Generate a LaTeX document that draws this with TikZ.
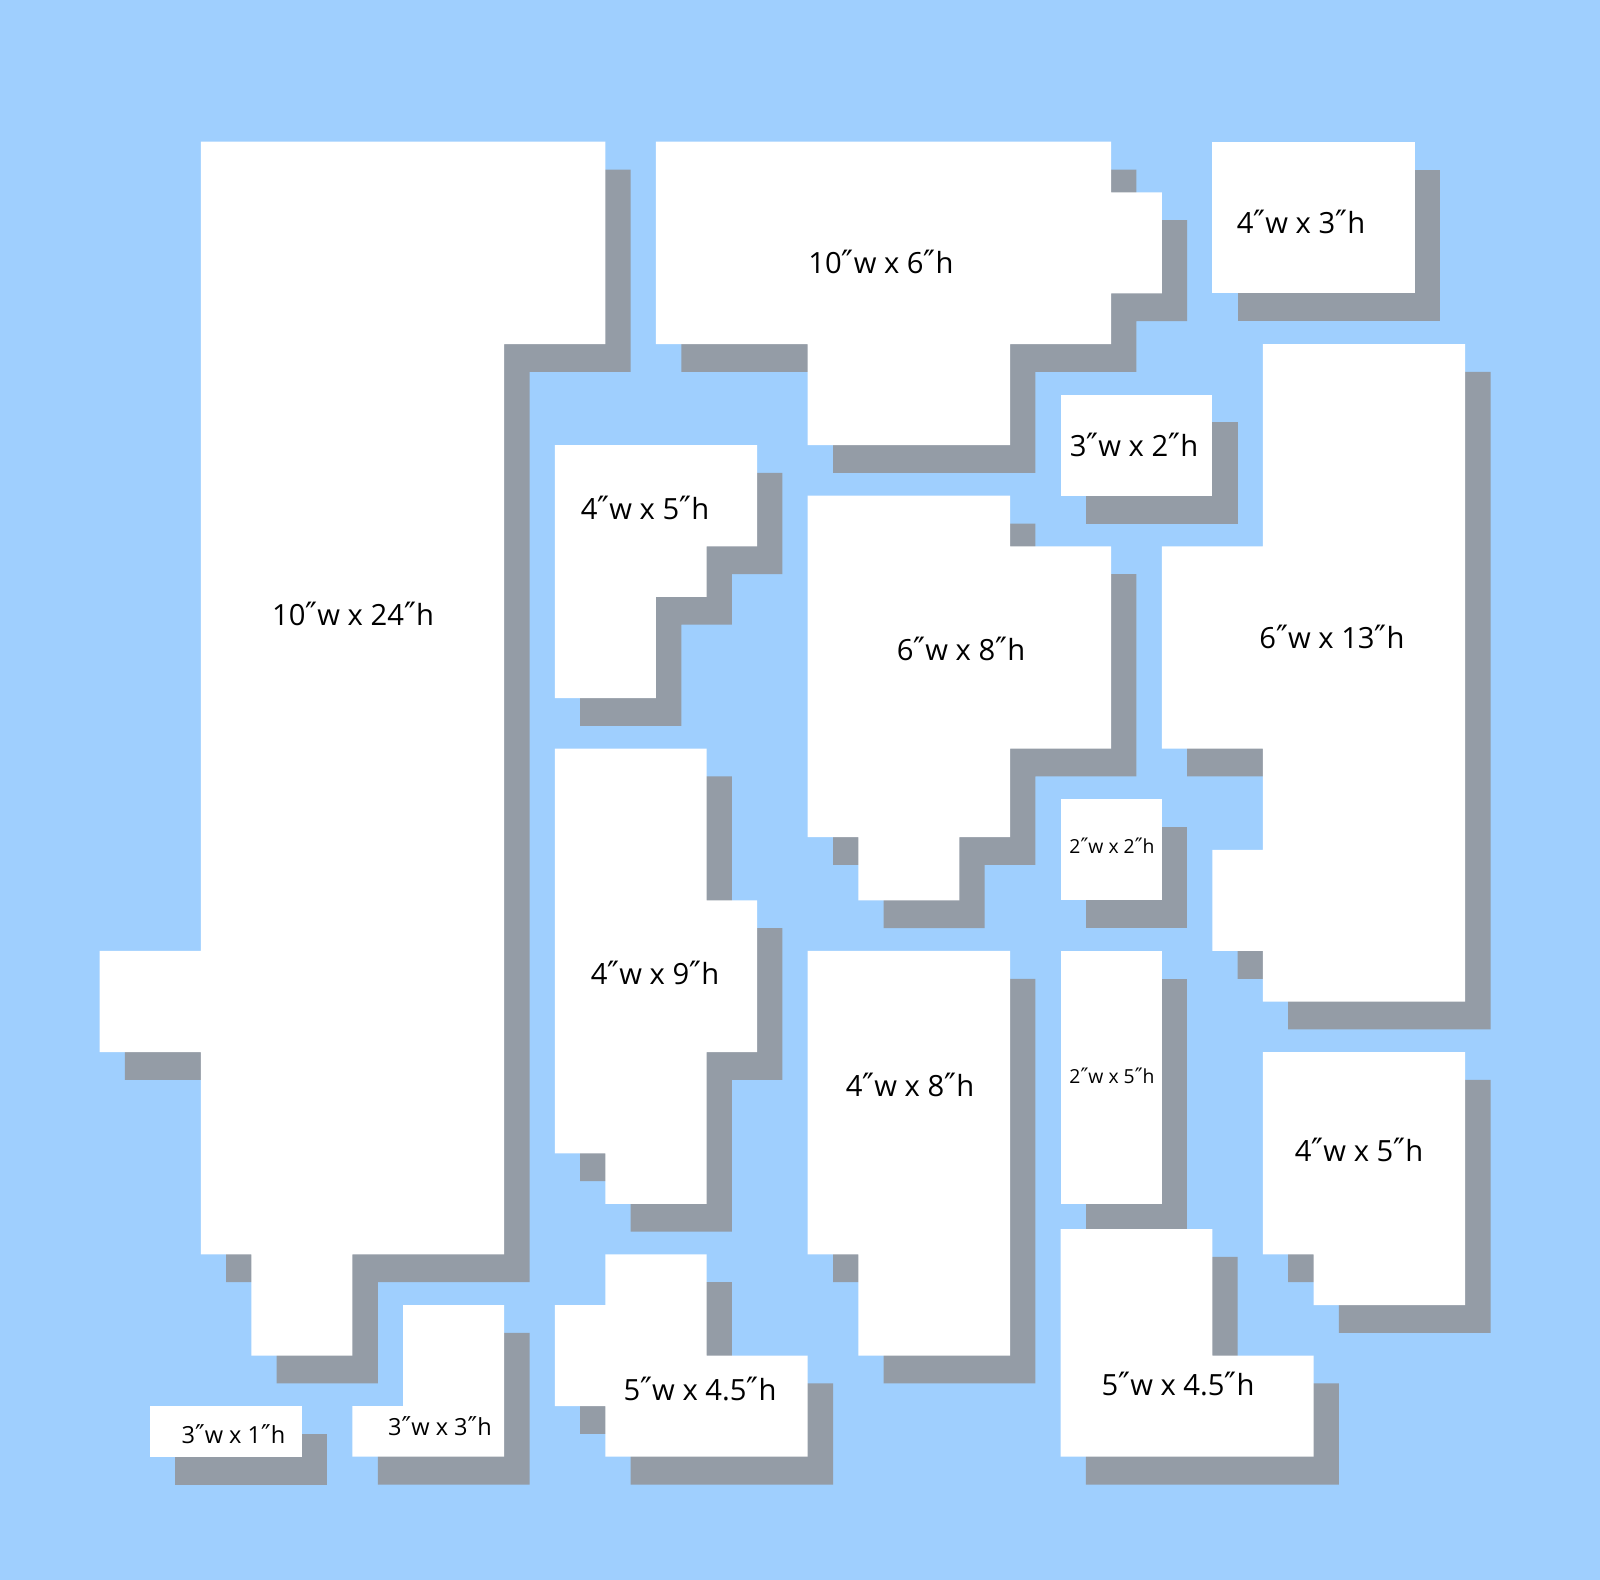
\documentclass[tikz,border=0pt]{standalone}
\usepackage{fontspec}
\setmainfont{Open Sans}
\newfontfamily\primefont[Scale=1.1]{DejaVu Sans}
\newcommand\dqmark{{\primefont ″}}
\definecolor{bgblue}{RGB}{159,207,254}
\definecolor{shgray}{RGB}{148,156,166}
\begin{document}
\begin{tikzpicture}[x=0.01cm,y=-0.01cm,
  shadowpiece/.style={fill=shgray,shift={(0.5,0.55)}},
  whitepiece/.style={fill=white},
  labbig/.style={inner sep=0pt,font=\fontsize{8.3}{10}\selectfont},
  labmid/.style={inner sep=0pt,font=\fontsize{6.7}{8}\selectfont},
  labsmall/.style={inner sep=0pt,font=\fontsize{5.5}{7}\selectfont}]
\fill[bgblue] (0,0) rectangle (1600,1580);
\useasboundingbox (0,0) rectangle (1600,1580);
\def\pA{(2,0)--(10,0)--(10,4)--(8,4)--(8,22)--(5,22)--(5,24)--(3,24)--(3,22)--(2,22)--(2,18)--(0,18)--(0,16)--(2,16)--cycle}
\def\pB{(11,0)--(20,0)--(20,1)--(21,1)--(21,3)--(20,3)--(20,4)--(18,4)--(18,6)--(14,6)--(14,4)--(11,4)--cycle}
\def\pC{(22,0)--(26,0)--(26,3)--(22,3)--cycle}
\def\pD{(19,5)--(22,5)--(22,7)--(19,7)--cycle}
\def\pE{(23,4)--(27,4)--(27,17)--(23,17)--(23,16)--(22,16)--(22,14)--(23,14)--(23,12)--(21,12)--(21,8)--(23,8)--cycle}
\def\pF{(9,6)--(13,6)--(13,8)--(12,8)--(12,9)--(11,9)--(11,11)--(9,11)--cycle}
\def\pG{(14,7)--(18,7)--(18,8)--(20,8)--(20,12)--(18,12)--(18,13.75)--(17,13.75)--(17,15)--(15,15)--(15,13.75)--(14,13.75)--cycle}
\def\pH{(19,13)--(21,13)--(21,15)--(19,15)--cycle}
\def\pI{(9,12)--(12,12)--(12,15)--(13,15)--(13,18)--(12,18)--(12,21)--(10,21)--(10,20)--(9,20)--cycle}
\def\pJ{(14,16)--(18,16)--(18,24)--(15,24)--(15,22)--(14,22)--cycle}
\def\pK{(19,16)--(21,16)--(21,21)--(19,21)--cycle}
\def\pL{(23,18)--(27,18)--(27,23)--(24,23)--(24,22)--(23,22)--cycle}
\def\pM{(19,21.5)--(22,21.5)--(22,24)--(24,24)--(24,26)--(19,26)--cycle}
\def\pN{(10,22)--(12,22)--(12,24)--(14,24)--(14,26)--(10,26)--(10,25)--(9,25)--(9,23)--(10,23)--cycle}
\def\pO{(6,23)--(8,23)--(8,26)--(5,26)--(5,25)--(6,25)--cycle}
\def\pP{(1,25)--(4,25)--(4,26)--(1,26)--cycle}
\begin{scope}[shift={(99.6,141.7)},x=0.5055cm,y=-0.5055cm]
  \foreach \p in {\pA,\pB,\pC,\pD,\pE,\pF,\pG,\pH,\pI,\pJ,\pK,\pL,\pM,\pN,\pO,\pP}{
    \fill[shadowpiece] \p;
  }
  \foreach \p in {\pA,\pB,\pC,\pD,\pE,\pF,\pG,\pH,\pI,\pJ,\pK,\pL,\pM,\pN,\pO,\pP}{
    \fill[whitepiece] \p;
  }
\end{scope}
\node[labbig] (tA) at (353,614) {10\dqmark w x 24\dqmark h};
\node[labbig] (tB) at (881,262) {10\dqmark w x 6\dqmark h};
\node[labbig] (tC) at (1301,221.5) {4\dqmark w x 3\dqmark h};
\node[labbig] (tD) at (1134,445) {3\dqmark w x 2\dqmark h};
\node[labbig] (tE) at (1332,637) {6\dqmark w x 13\dqmark h};
\node[labbig] (tF) at (645,508) {4\dqmark w x 5\dqmark h};
\node[labbig] (tG) at (961,649) {6\dqmark w x 8\dqmark h};
\node[labsmall] (tH) at (1112,846) {2\dqmark w x 2\dqmark h};
\node[labbig] (tI) at (655,972.5) {4\dqmark w x 9\dqmark h};
\node[labbig] (tJ) at (910,1085) {4\dqmark w x 8\dqmark h};
\node[labsmall] (tK) at (1112,1075.5) {2\dqmark w x 5\dqmark h};
\node[labbig] (tL) at (1359,1150) {4\dqmark w x 5\dqmark h};
\node[labbig] (tM) at (1178,1384.5) {5\dqmark w x 4.5\dqmark h};
\node[labbig] (tN) at (700,1389) {5\dqmark w x 4.5\dqmark h};
\node[labmid] (tO) at (440,1426) {3\dqmark w x 3\dqmark h};
\node[labmid] (tP) at (233.5,1434) {3\dqmark w x 1\dqmark h};
\end{tikzpicture}
\end{document}
